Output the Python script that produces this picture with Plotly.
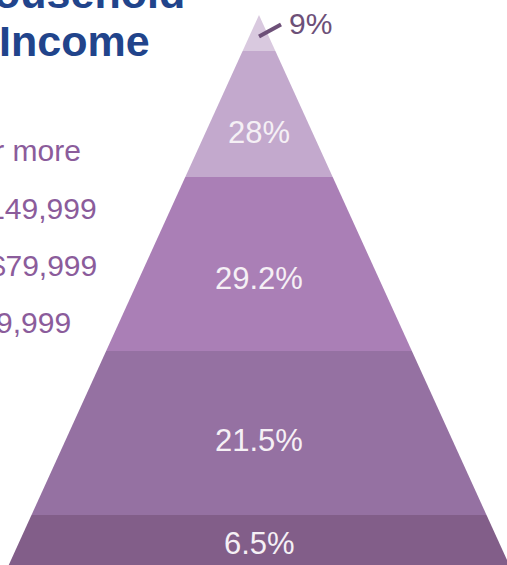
import math
import plotly.graph_objects as go

# ---- data ----
shares = [9, 28, 29.2, 21.5, 6.5]                      # percent per pyramid band, top -> bottom
share_labels = ["9%", "28%", "29.2%", "21.5%", "6.5%"]
band_heights = [36, 126, 174, 164, 62]                 # drawn band heights (pyramid units), top -> bottom
income_groups = ["$150,000 or more", "$100,000 – $149,999", "$50,000 – $79,999", "$0 – $49,999"]
title_lines = ["Household", "Income"]

# ---- styling / layout ----
W, H = 507, 565
band_colors = ["#d9c9df", "#c3a9cd", "#aa7fb6", "#9571a2", "#825e89"]
apex_x, apex_y = 259, 15
slope = 0.455
FONT = "Liberation Sans"


def px(x, y):
    return x / W, 1 - y / H


fig = go.Figure()
depth = 0.0
label_pos = []
for val, h, col in zip(shares, band_heights, band_colors):
    d0, d1 = depth, depth + h
    xs = [apex_x - slope * d0, apex_x + slope * d0, apex_x + slope * d1, apex_x - slope * d1, apex_x - slope * d0]
    ys = [apex_y + d0, apex_y + d0, apex_y + d1, apex_y + d1, apex_y + d0]
    fig.add_trace(go.Scatter(x=xs, y=ys, mode="lines", fill="toself", fillcolor=col,
                             line=dict(width=0), hoverinfo="skip", showlegend=False))
    label_pos.append(apex_y + math.sqrt((d0 ** 2 + d1 ** 2) / 2))
    depth = d1

annotations = []
# inside labels
for i, (lab, ly) in enumerate(zip(share_labels, label_pos)):
    if i == 0:
        continue
    x, y = px(apex_x, min(ly, 543))
    annotations.append(dict(x=x, y=y, xref="paper", yref="paper", text=lab, showarrow=False,
                            xanchor="center", yanchor="middle",
                            font=dict(family=FONT, size=31, color="#f5f0f5")))

# outside label for the top band with connector
sx, sy = apex_x, label_pos[0] - 4
ex, ey = sx + 22, sy - 12
fig.add_trace(go.Scatter(x=[sx, ex], y=[sy, ey], mode="lines",
                         line=dict(color="#6d5078", width=4), hoverinfo="skip", showlegend=False))
x, y = px(ex + 6, ey - 1)
annotations.append(dict(x=x, y=y, xref="paper", yref="paper", text=share_labels[0], showarrow=False,
                        xanchor="left", yanchor="middle",
                        font=dict(family=FONT, size=30, color="#6d5078")))

# legend-like category labels (cut off on the left)
right_edges = [83, 99, 99, 73]
for i, (txt, rx) in enumerate(zip(income_groups, right_edges)):
    x, y = px(rx, 151 + 57 * i)
    annotations.append(dict(x=x, y=y, xref="paper", yref="paper", text=txt, showarrow=False,
                            xanchor="right", yanchor="middle",
                            font=dict(family=FONT, size=30, color="#8b5c9b")))

# title (cut off at top-left)
for i, t in enumerate(title_lines):
    x, y = px(74, -7 + 48 * i)
    annotations.append(dict(x=x, y=y, xref="paper", yref="paper", text="<b>%s</b>" % t, showarrow=False,
                            xanchor="center", yanchor="middle",
                            font=dict(family=FONT, size=43, color="#21448b")))

fig.update_layout(
    width=W, height=H,
    margin=dict(l=0, r=0, t=0, b=0),
    paper_bgcolor="white", plot_bgcolor="white",
    xaxis=dict(range=[0, W], visible=False, fixedrange=True),
    yaxis=dict(range=[H, 0], visible=False, fixedrange=True),
    annotations=annotations,
    showlegend=False,
)

fig.write_html("out.html", config={"displayModeBar": False},
               post_script="document.body.style.margin='0';")
